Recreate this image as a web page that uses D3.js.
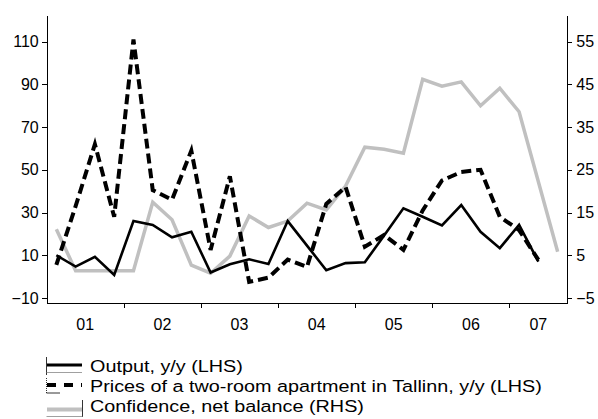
<!DOCTYPE html>
<html>
<head>
<meta charset="utf-8">
<script src="https://cdnjs.cloudflare.com/ajax/libs/d3/7.8.5/d3.min.js"></script>
<style>
    body { margin: 0; background: #fff; }
    #chart-area text { font-family: "Liberation Sans", Arial, sans-serif; fill: #000; }
    .axis path, .axis line { stroke: #000; stroke-width: 1px; shape-rendering: crispEdges; }
    .axis text { font-size: 16px; }
</style>
</head>
<body>
<div id="chart-area"></div>
<script>

// quarterly data, 2001Q1 .. 2007Q3
var yearLabels = ["01", "02", "03", "04", "05", "06", "07"];
var quarterCount = 27;

// Output, y/y (LHS)
var outputData = [10, 4.7, 9.3, 0.8, 26, 24.2, 18.4, 21, 1.9, 5.8, 8.1, 5.9, 26,
    14.5, 3, 6.3, 6.7, 19.3, 32, 28, 24, 33.5, 21, 13.3, 24.2, 7];

// Prices of a two-room apartment in Tallinn, y/y (LHS)
var priceData = [5.5, 33, 62, 28, 111, 40.5, 36, 59, 12.5, 47, -2.5, -0.5, 8,
    4.5, 34, 42, 14, 19.5, 12.5, 31, 45, 49, 50, 28, 21.8, 7.8];

// Confidence, net balance (RHS)
var confidenceData = [11.1, 1.4, 1.4, 1.4, 1.4, 17.4, 13.3, 2.7, 0.8, 4.8, 14.2, 11.5, 13,
    17.2, 15.6, 21.2, 30.3, 29.8, 28.9, 46.2, 44.6, 45.6, 40, 44.1, 38.6, 22.2, 5.8];

var leftTicks = [-10, 10, 30, 50, 70, 90, 110];
var rightTicks = [-5, 5, 15, 25, 35, 45, 55];

var legendLabels = ["Output, y/y (LHS)",
    "Prices of a two-room apartment in Tallinn, y/y (LHS)",
    "Confidence, net balance (RHS)"];


/*
 * DualAxisChart - Object constructor function
 */

DualAxisChart = function(_parentElement){
    this.parentElement = _parentElement;
    this.initVis();
};

DualAxisChart.prototype.initVis = function(){
    var vis = this;

    vis.margin = { top: 15, right: 30.7, bottom: 115.7, left: 46.7 };
    vis.width = 598 - vis.margin.left - vis.margin.right,
        vis.height = 419 - vis.margin.top - vis.margin.bottom;

    vis.root = d3.select("#" + vis.parentElement).append("svg")
        .attr("width", 598)
        .attr("height", 419);

    vis.svg = vis.root.append("g")
        .attr("transform", "translate(" + vis.margin.left + "," + vis.margin.top + ")");

    // Scales
    vis.x = d3.scaleLinear()
        .domain([0, quarterCount])
        .range([0, vis.width]);

    vis.yLeft = d3.scaleLinear()
        .domain([-12.5, 122.5])
        .range([vis.height, 0]);

    vis.yRight = d3.scaleLinear()
        .domain([-6.25, 61.25])
        .range([vis.height, 0]);

    // Axes
    vis.xAxis = d3.axisBottom(vis.x)
        .tickValues(d3.range(4, quarterCount, 4))
        .tickSize(5)
        .tickSizeOuter(0)
        .tickFormat("");

    vis.yAxisLeft = d3.axisLeft(vis.yLeft)
        .tickValues(leftTicks)
        .tickSize(5)
        .tickSizeOuter(0)
        .tickPadding(3);

    vis.yAxisRight = d3.axisRight(vis.yRight)
        .tickValues(rightTicks)
        .tickSize(5)
        .tickSizeOuter(0)
        .tickPadding(4);

    vis.svg.append("g")
        .attr("class", "x-axis axis")
        .attr("transform", "translate(0," + vis.height + ")")
        .call(vis.xAxis);

    vis.svg.append("g")
        .attr("class", "y-axis axis")
        .call(vis.yAxisLeft);

    vis.svg.append("g")
        .attr("class", "y-axis-right axis")
        .attr("transform", "translate(" + vis.width + ",0)")
        .call(vis.yAxisRight);

    vis.svg.selectAll(".axis text").attr("fill", "#000");

    // Year labels centred under each year
    vis.svg.selectAll(".year-label")
        .data(yearLabels)
        .enter().append("text")
        .attr("class", "year-label")
        .attr("x", function(d, i) {
            var start = i * 4, end = Math.min(i * 4 + 4, quarterCount);
            return vis.x((start + end) / 2);
        })
        .attr("y", vis.height + 27)
        .attr("text-anchor", "middle")
        .style("font-size", "16px")
        .text(function(d) { return d; });

    vis.series = [
        { data: outputData, scale: vis.yLeft, color: "#000", width: 2.6, dash: null },
        { data: priceData, scale: vis.yLeft, color: "#000", width: 4, dash: "10,5" },
        { data: confidenceData, scale: vis.yRight, color: "#c0c0c0", width: 3.5, dash: null }
    ];

    vis.updateVis();
};

DualAxisChart.prototype.updateVis = function(){
    var vis = this;

    // grey line underneath, dashed on top
    var drawOrder = [2, 0, 1];

    drawOrder.forEach(function(k) {
        var s = vis.series[k];
        var line = d3.line()
            .x(function(d, i) { return vis.x(i + 0.5); })
            .y(function(d) { return s.scale(d); });

        vis.svg.append("path")
            .datum(s.data)
            .attr("d", line)
            .attr("fill", "none")
            .attr("stroke", s.color)
            .attr("stroke-width", s.width)
            .attr("stroke-linejoin", "miter")
            .attr("stroke-dasharray", s.dash);
    });

    // Legend (absolute coordinates, below the plot)
    var legendRows = [365, 385, 409.5];
    var legendBase = [371.5, 391.5, 411.5];

    var legend = vis.root.append("g").attr("class", "legend");

    legendLabels.forEach(function(label, i) {
        var s = vis.series[i];
        legend.append("line")
            .attr("x1", 47).attr("x2", 82)
            .attr("y1", legendRows[i]).attr("y2", legendRows[i])
            .attr("stroke", s.color)
            .attr("stroke-width", i == 1 ? 4 : s.width + 0.4)
            .attr("stroke-dasharray", i == 1 ? "9,8" : null);

        legend.append("text")
            .attr("transform", "translate(90," + legendBase[i] + ") scale(1.2,1)")
            .style("font-size", "16.5px")
            .text(label);
    });

    // thin frame bits around the legend keys
    legend.append("line").attr("x1", 46.5).attr("x2", 46.5).attr("y1", 357).attr("y2", 375)
        .attr("stroke", "#000").attr("stroke-width", 0.8);
    legend.append("line").attr("x1", 46.5).attr("x2", 82).attr("y1", 372.5).attr("y2", 372.5)
        .attr("stroke", "#888").attr("stroke-width", 0.8);
    legend.append("line").attr("x1", 46.5).attr("x2", 46.5).attr("y1", 378).attr("y2", 393)
        .attr("stroke", "#000").attr("stroke-width", 0.8).attr("stroke-dasharray", "1,1");
    legend.append("line").attr("x1", 46.5).attr("x2", 60).attr("y1", 393).attr("y2", 393)
        .attr("stroke", "#000").attr("stroke-width", 0.8);
    legend.append("line").attr("x1", 82.5).attr("x2", 82.5).attr("y1", 400).attr("y2", 417)
        .attr("stroke", "#000").attr("stroke-width", 0.8);
    legend.append("line").attr("x1", 46.5).attr("x2", 82.5).attr("y1", 416.5).attr("y2", 416.5)
        .attr("stroke", "#888").attr("stroke-width", 0.8);
};

var chart = new DualAxisChart("chart-area");

</script>
</body>
</html>
